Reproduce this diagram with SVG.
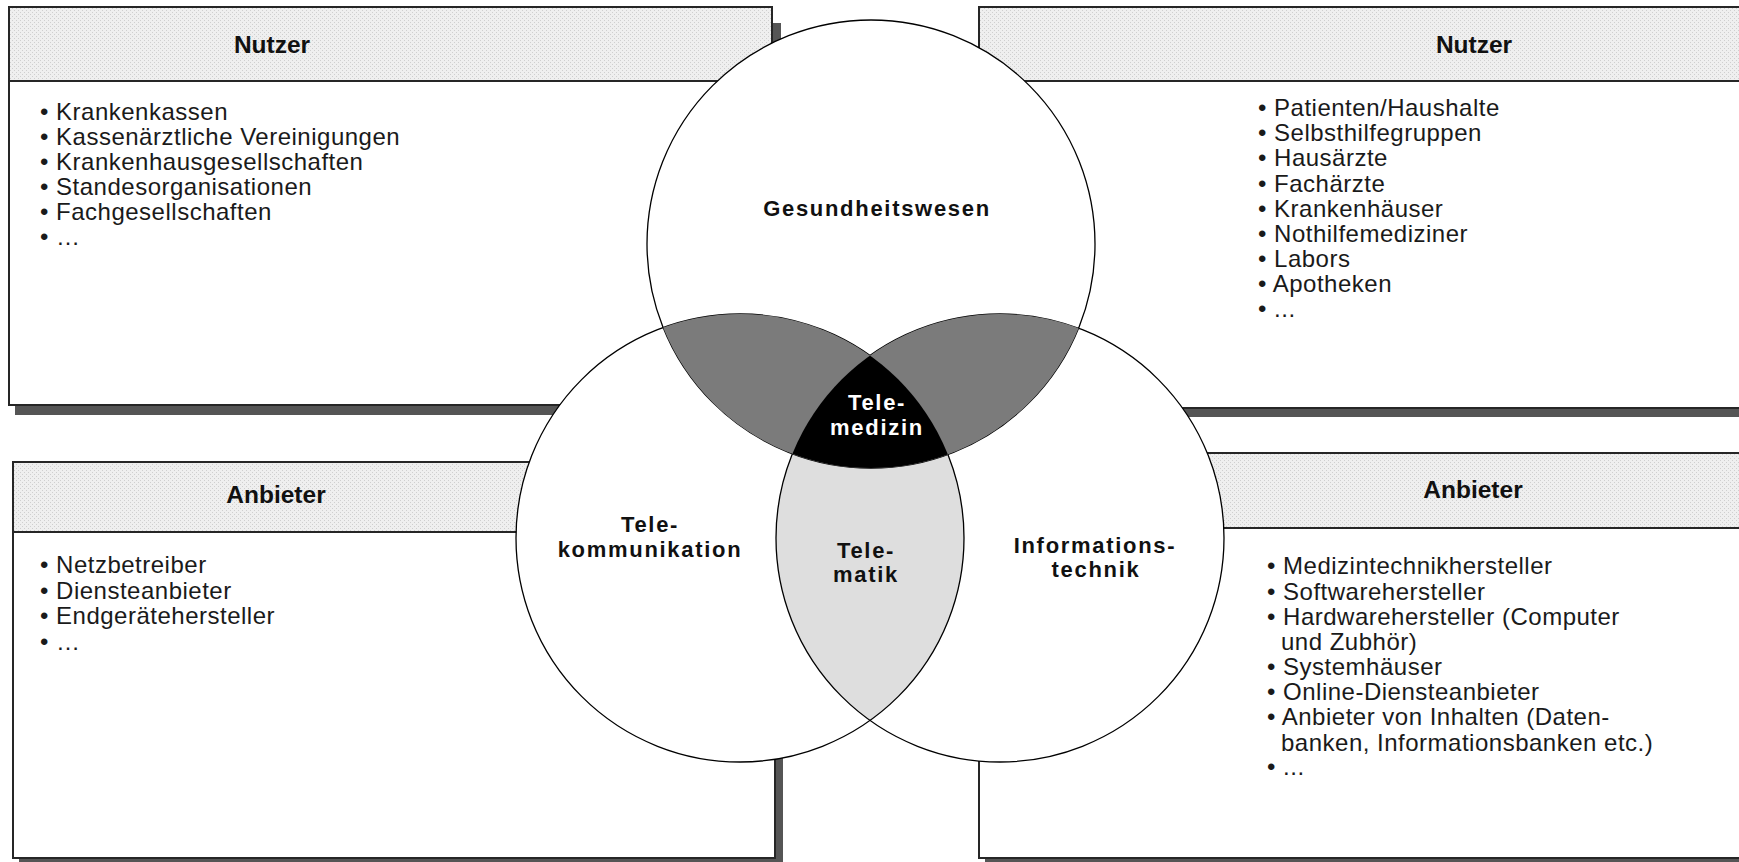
<svg xmlns="http://www.w3.org/2000/svg" width="1739" height="862" viewBox="0 0 1739 862">
  <defs>
    <pattern id="hatch" width="4" height="4" patternUnits="userSpaceOnUse">
      <rect width="4" height="4" fill="#efefef"/>
      <rect x="0" y="0" width="1" height="1" fill="#cfcfcf"/>
      <rect x="2" y="2" width="1" height="1" fill="#cfcfcf"/>
    </pattern>
    <clipPath id="clipTop"><circle cx="871" cy="244" r="224"/></clipPath>
    <clipPath id="clipLeft"><circle cx="740" cy="538" r="224"/></clipPath>
    <clipPath id="clipRight"><circle cx="1000" cy="538" r="224"/></clipPath>
  </defs>
  <style>
    .shadow { fill: #555555; }
    .body { fill: #ffffff; stroke: #262626; stroke-width: 2; }
    .head { fill: url(#hatch); stroke: #262626; stroke-width: 2; }
    .title { font-family: "Liberation Sans", Arial, sans-serif; font-weight: bold; font-size: 24.5px; fill: #111111; text-anchor: middle; }
    .item { font-family: "Liberation Sans", Arial, sans-serif; font-size: 24px; letter-spacing: 0.5px; fill: #1a1a1a; }
    .disc { fill: #ffffff; }
    .ring { fill: none; stroke: #000000; stroke-width: 1.3; }
    .label { font-family: "Liberation Sans", Arial, sans-serif; font-weight: bold; font-size: 22px; letter-spacing: 1.7px; fill: #111111; text-anchor: middle; }
    .inv { fill: #ffffff; }
  </style>

  <!-- upper left: users -->
  <g id="box-nutzer-links">
    <rect class="shadow" x="15" y="23" width="766" height="392"/>
    <rect class="body" x="9" y="7" width="763" height="398"/>
    <rect class="head" x="9" y="7" width="763" height="74"/>
    <text class="title" x="272" y="53">Nutzer</text>
    <text class="item" x="40" y="120">• Krankenkassen</text>
    <text class="item" x="40" y="145">• Kassenärztliche Vereinigungen</text>
    <text class="item" x="40" y="170">• Krankenhausgesellschaften</text>
    <text class="item" x="40" y="195">• Standesorganisationen</text>
    <text class="item" x="40" y="220">• Fachgesellschaften</text>
    <text class="item" x="40" y="245">• …</text>
  </g>

  <!-- upper right: users -->
  <g id="box-nutzer-rechts">
    <rect class="shadow" x="985" y="23" width="800" height="394"/>
    <rect class="body" x="979" y="7" width="800" height="401"/>
    <rect class="head" x="979" y="7" width="800" height="74"/>
    <text class="title" x="1474" y="53">Nutzer</text>
    <text class="item" x="1258" y="116">• Patienten/Haushalte</text>
    <text class="item" x="1258" y="141">• Selbsthilfegruppen</text>
    <text class="item" x="1258" y="166">• Hausärzte</text>
    <text class="item" x="1258" y="191.5">• Fachärzte</text>
    <text class="item" x="1258" y="216.5">• Krankenhäuser</text>
    <text class="item" x="1258" y="241.5">• Nothilfemediziner</text>
    <text class="item" x="1258" y="267">• Labors</text>
    <text class="item" x="1258" y="292">• Apotheken</text>
    <text class="item" x="1258" y="317">• ...</text>
  </g>

  <!-- lower left: providers -->
  <g id="box-anbieter-links">
    <rect class="shadow" x="19" y="478" width="764" height="394"/>
    <rect class="body" x="13" y="462" width="762" height="396"/>
    <rect class="head" x="13" y="462" width="762" height="70"/>
    <text class="title" x="276" y="503">Anbieter</text>
    <text class="item" x="40" y="573">• Netzbetreiber</text>
    <text class="item" x="40" y="599">• Diensteanbieter</text>
    <text class="item" x="40" y="624">• Endgerätehersteller</text>
    <text class="item" x="40" y="650">• …</text>
  </g>

  <!-- lower right: providers -->
  <g id="box-anbieter-rechts">
    <rect class="shadow" x="985" y="469" width="800" height="400"/>
    <rect class="body" x="979" y="453" width="800" height="405"/>
    <rect class="head" x="979" y="453" width="800" height="75"/>
    <text class="title" x="1473" y="498">Anbieter</text>
    <text class="item" x="1267" y="574">• Medizintechnikhersteller</text>
    <text class="item" x="1267" y="600">• Softwarehersteller</text>
    <text class="item" x="1267" y="625">• Hardwarehersteller (Computer</text>
    <text class="item" x="1281" y="650">und Zubhör)</text>
    <text class="item" x="1267" y="675">• Systemhäuser</text>
    <text class="item" x="1267" y="700">• Online-Diensteanbieter</text>
    <text class="item" x="1267" y="725">• Anbieter von Inhalten (Daten-</text>
    <text class="item" x="1281" y="751">banken, Informationsbanken etc.)</text>
    <text class="item" x="1267" y="775">• ...</text>
  </g>

  <!-- three overlapping fields -->
  <g id="venn">
    <circle class="disc" cx="871" cy="244" r="224"/>
    <circle class="disc" cx="740" cy="538" r="224"/>
    <circle class="disc" cx="1000" cy="538" r="224"/>
    <!-- telecom ∩ IT -->
    <g clip-path="url(#clipLeft)">
      <circle cx="1000" cy="538" r="224" fill="#dedede"/>
    </g>
    <circle class="ring" cx="871" cy="244" r="224"/>
    <circle class="ring" cx="740" cy="538" r="224"/>
    <circle class="ring" cx="1000" cy="538" r="224"/>
    <!-- health ∩ telecom, health ∩ IT -->
    <g clip-path="url(#clipTop)">
      <circle cx="740" cy="538" r="224" fill="#7b7b7b"/>
      <circle cx="1000" cy="538" r="224" fill="#7b7b7b"/>
    </g>
    <!-- all three -->
    <g clip-path="url(#clipTop)">
      <g clip-path="url(#clipLeft)">
        <circle cx="1000" cy="538" r="224" fill="#000000"/>
      </g>
    </g>
  </g>

  <g id="feld-gesundheitswesen">
    <text class="label" x="877" y="216">Gesundheitswesen</text>
  </g>
  <g id="feld-telekommunikation">
    <text class="label" x="650" y="532">Tele-</text>
    <text class="label" x="650" y="557">kommunikation</text>
  </g>
  <g id="feld-informationstechnik">
    <text class="label" x="1095" y="553">Informations-</text>
    <text class="label" x="1096" y="577">technik</text>
  </g>
  <g id="feld-telematik">
    <text class="label" x="866" y="558">Tele-</text>
    <text class="label" x="866" y="582">matik</text>
  </g>
  <g id="feld-telemedizin">
    <text class="label inv" x="877" y="410">Tele-</text>
    <text class="label inv" x="877" y="435">medizin</text>
  </g>

  <g id="connectors"/>
</svg>
